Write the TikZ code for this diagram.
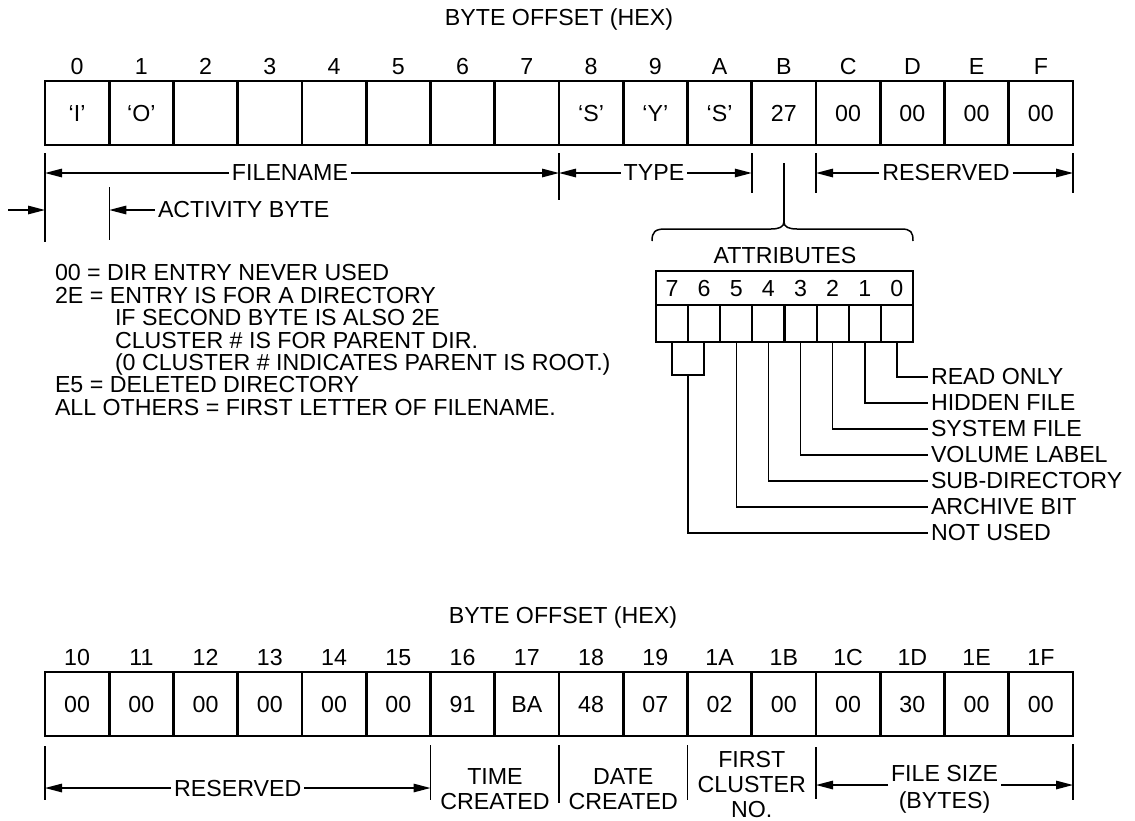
\documentclass[tikz,border=0pt]{standalone}
\usepackage{fontspec}
\setmainfont{Liberation Sans}
\usetikzlibrary{arrows.meta,calc}
\begin{document}
\begin{tikzpicture}[x=1pt,y=-1pt,
  every node/.style={font=\fontsize{23.2}{25}\selectfont, inner sep=3pt, outer sep=0pt},
  cell/.style={draw, line width=2.6pt, minimum width=64.25pt, minimum height=64pt, anchor=north west},
  bitcell/.style={draw, line width=2.2pt, minimum width=32.125pt, minimum height=37pt, anchor=north west},
  celltext/.style={anchor=base},
  thinline/.style={line width=1.5pt},
  dimarr/.style={line width=1.4pt, -{Triangle[length=17pt,width=8.5pt]}},
  lbl/.style={anchor=west},
  note/.style={anchor=base west},
  twoline/.style={align=center, font=\fontsize{23.2}{25}\selectfont}
]
\fill[white] (0,0) rectangle (1135,820);
\useasboundingbox (0,0) rectangle (1135,820);

% ---------- top record ----------
\node (hdrA) at (559,19) {BYTE OFFSET (HEX)};
\foreach \i/\n/\v in {0/0/‘I’,1/1/‘O’,2/2/{},3/3/{},4/4/{},5/5/{},6/6/{},7/7/{},8/8/‘S’,9/9/‘Y’,10/A/‘S’,11/B/27,12/C/00,13/D/00,14/E/00,15/F/00}{
  \node[cell] (t\i) at ({45+64.25*\i},81) {};
  \node[celltext] (tv\i) at ({45+64.25*(\i+0.5)},121.3) {\v};
  \node[celltext] (tn\i) at ({45+64.25*(\i+0.5)},74.3) {\n};
}

% ticks
\coordinate (ka1) at (45,153);   \coordinate (ka2) at (45,242);
\coordinate (kb1) at (559,153);  \coordinate (kb2) at (559,200);
\coordinate (kc1) at (751.75,153); \coordinate (kc2) at (751.75,193);
\coordinate (kd1) at (816,153);  \coordinate (kd2) at (816,193);
\coordinate (ke1) at (1073,153); \coordinate (ke2) at (1073,193);
\coordinate (kf1) at (109.25,187); \coordinate (kf2) at (109.25,240);
\foreach \k in {a,b,c,d,e,f} \draw[thinline] (k\k1) -- (k\k2);

\coordinate (fnl) at (45,173); \coordinate (fnr) at (559,173);
\coordinate (tyr) at (751.75,173);
\coordinate (rsl) at (816,173); \coordinate (rsr) at (1073,173);
\node (fn) at (290,173) {FILENAME};
\draw[dimarr] (fn.west) -- (fnl);
\draw[dimarr] (fn.east) -- (fnr);
\node (ty) at (654,173) {TYPE};
\draw[dimarr] (ty.west) -- (fnr);
\draw[dimarr] (ty.east) -- (tyr);
\node (rs) at (946,173) {RESERVED};
\draw[dimarr] (rs.west) -- (rsl);
\draw[dimarr] (rs.east) -- (rsr);

\coordinate (ain) at (8,210); \coordinate (aend) at (45,210);
\draw[dimarr] (ain) -- (aend);
\coordinate (abt) at (109.25,210);
\node[anchor=west] (ab) at (155,210) {ACTIVITY BYTE};
\draw[dimarr] (ab.west) -- (abt);

% stem and brace
\coordinate (stemtop) at (783.9,163);
\coordinate (bracetip) at (783.9,222);
\draw[thinline] (stemtop) -- (bracetip);
\draw[thinline] (652,241) .. controls (652,232) and (655,229) .. (665,229) -- (771,229)
  .. controls (779,229) and (783.9,227) .. (bracetip)
  .. controls (783.9,227) and (789,229) .. (797,229) -- (901,229)
  .. controls (911,229) and (913,232) .. (913,241);

% attributes box
\node (attr) at (785,256) {ATTRIBUTES};
\node[draw, line width=2.2pt, minimum width=257pt, minimum height=34pt, anchor=north west] (bitnums) at (656,271) {};
\foreach \k in {0,...,7}{
  \pgfmathtruncatemacro\b{7-\k}
  \node[celltext] (bn\b) at ({656+32.125*(\k+0.5)},296.3) {\b};
  \node[bitcell] (b\b) at ({656+32.125*\k},305) {};
}

\node[lbl] (L0) at (928,377) {READ ONLY};
\node[lbl] (L1) at (928,403) {HIDDEN FILE};
\node[lbl] (L2) at (928,429) {SYSTEM FILE};
\node[lbl] (L3) at (928,455) {VOLUME LABEL};
\node[lbl] (L4) at (928,481) {SUB-DIRECTORY};
\node[lbl] (L5) at (928,507) {ARCHIVE BIT};
\node[lbl] (L6) at (928,533) {NOT USED};
\foreach \b in {0,...,5} \draw[thinline] (b\b.south) |- (L\b.west);
\draw[thinline] (b7.south) -- ++(0,33) -| (b6.south);
\draw[thinline] ($(b7.south)!0.5!(b6.south)+(0,33)$) |- (L6.west);

% notes
\node[note] (n1) at (52,280) {00 = DIR ENTRY NEVER USED};
\node[note] (n2) at (52,303) {2E = ENTRY IS FOR A DIRECTORY};
\node[note] (n3) at (112,325) {IF SECOND BYTE IS ALSO 2E};
\node[note] (n4) at (112,348) {CLUSTER \# IS FOR PARENT DIR.};
\node[note] (n5) at (112,370) {(0 CLUSTER \# INDICATES PARENT IS ROOT.)};
\node[note] (n6) at (52,392) {E5 = DELETED DIRECTORY};
\node[note] (n7) at (52,415) {ALL OTHERS = FIRST LETTER OF FILENAME.};

% ---------- bottom record ----------
\node (hdrB) at (563,617) {BYTE OFFSET (HEX)};
\foreach \i/\n/\v in {0/10/00,1/11/00,2/12/00,3/13/00,4/14/00,5/15/00,6/16/91,7/17/BA,8/18/48,9/19/07,10/1A/02,11/1B/00,12/1C/00,13/1D/30,14/1E/00,15/1F/00}{
  \node[cell] (u\i) at ({45+64.25*\i},672) {};
  \node[celltext] (uv\i) at ({45+64.25*(\i+0.5)},712.3) {\v};
  \node[celltext] (un\i) at ({45+64.25*(\i+0.5)},665.3) {\n};
}
\coordinate (ma1) at (45,746);     \coordinate (ma2) at (45,800);
\coordinate (mb1) at (430.5,745);  \coordinate (mb2) at (430.5,800);
\coordinate (mc1) at (559,745);    \coordinate (mc2) at (559,803);
\coordinate (md1) at (687.5,745);  \coordinate (md2) at (687.5,800);
\coordinate (me1) at (816,747);    \coordinate (me2) at (816,799);
\coordinate (mf1) at (1073,744);   \coordinate (mf2) at (1073,800);
\foreach \k in {a,b,c,d,e,f} \draw[thinline] (m\k1) -- (m\k2);

\coordinate (r2l) at (45,788); \coordinate (r2r) at (430.5,788);
\node (rs2) at (237.75,788) {RESERVED};
\draw[dimarr] (rs2.west) -- (r2l);
\draw[dimarr] (rs2.east) -- (r2r);

\node[twoline] (tc) at (495,789.5) {TIME\\CREATED};
\node[twoline] (dc) at (623.25,789.5) {DATE\\CREATED};
\node[align=center, font=\fontsize{23.2}{25}\selectfont] (fc) at (751.75,784) {FIRST\\CLUSTER\\NO.};
\node[align=center, font=\fontsize{23.2}{27}\selectfont] (fs) at (944.5,789) {FILE SIZE\\(BYTES)};
\coordinate (fsl) at (816,785); \coordinate (fsr) at (1073,785);
\draw[dimarr] (fs.west |- fsl) -- (fsl);
\draw[dimarr] (fs.east |- fsr) -- (fsr);
\end{tikzpicture}
\end{document}
